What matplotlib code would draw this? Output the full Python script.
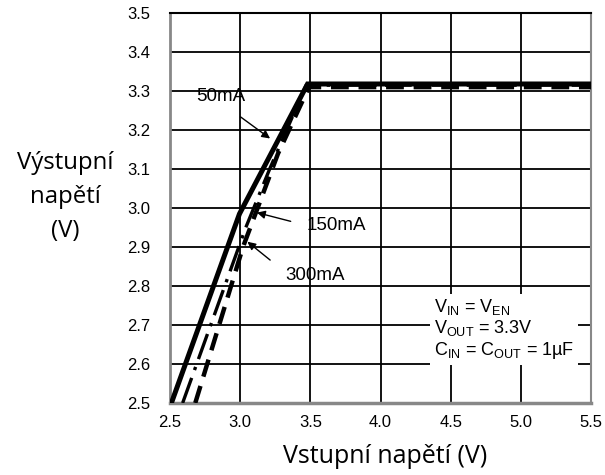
import matplotlib.pyplot as plt

# data
x_50 = [2.51, 2.995, 3.48, 5.5]
y_50 = [2.50, 2.985, 3.318, 3.318]

x_150 = [2.59, 2.64, 2.84, 3.04, 3.21, 3.47, 5.5]
y_150 = [2.50, 2.55, 2.75, 2.95, 3.10, 3.315, 3.315]

x_300 = [2.68, 3.02, 3.27, 3.49, 5.5]
y_300 = [2.50, 2.90, 3.14, 3.31, 3.31]

x_ticks = [2.5, 3.0, 3.5, 4.0, 4.5, 5.0, 5.5]
y_ticks = [2.5, 2.6, 2.7, 2.8, 2.9, 3.0, 3.1, 3.2, 3.3, 3.4, 3.5]

fig = plt.figure(figsize=(6.05, 4.75), dpi=100)
ax = fig.add_axes([0.281, 0.1516, 0.696, 0.821])

ax.plot(x_300, y_300, color='black', lw=3.2, dashes=(4, 2.2), zorder=3)
ax.plot(x_150, y_150, color='black', lw=2.4, linestyle=(0, (8, 2.5, 1, 2.5)), zorder=4)
ax.plot(x_50, y_50, color='black', lw=3.6, zorder=5, solid_joinstyle='miter')

ax.set_xlim(2.5, 5.5)
ax.set_ylim(2.5, 3.5)
ax.set_xticks(x_ticks)
ax.set_yticks(y_ticks)
ax.set_xticklabels(['%.1f' % v for v in x_ticks])
ax.set_yticklabels(['%.1f' % v for v in y_ticks])
ax.tick_params(length=0, labelsize=12, pad=9)
ax.tick_params(axis='y', pad=14)
for lab in ax.get_xticklabels() + ax.get_yticklabels():
    lab.set_fontfamily('Liberation Sans')

ax.grid(True, color='black', lw=1.3)
ax.set_axisbelow(True)
ax.spines['top'].set_color('black')
ax.spines['top'].set_linewidth(1.5)
for s in ['left', 'right', 'bottom']:
    ax.spines[s].set_color('#888888')
ax.spines['left'].set_linewidth(2)
ax.spines['right'].set_linewidth(1.5)
ax.spines['bottom'].set_linewidth(2.5)

# annotations
arrow = dict(arrowstyle='-|>', color='black', lw=1, mutation_scale=12)
fs = 13.5
ax.annotate('', xy=(3.229, 3.174), xytext=(2.986, 3.238), arrowprops=arrow, zorder=6)
ax.text(2.864, 3.285, '50mA', ha='center', va='center', fontsize=fs,
        family='Liberation Sans')
ax.annotate('', xy=(3.10, 2.99), xytext=(3.379, 2.964), arrowprops=arrow, zorder=6)
ax.text(3.475, 2.956, '150mA', ha='left', va='center', fontsize=fs,
        family='Liberation Sans')
ax.annotate('', xy=(3.036, 2.918), xytext=(3.229, 2.862), arrowprops=arrow, zorder=6)
ax.text(3.32, 2.828, '300mA', ha='left', va='center', fontsize=fs,
        family='Liberation Sans')

cond = ('$\\mathregular{V_{IN}}$ = $\\mathregular{V_{EN}}$\n'
        '$\\mathregular{V_{OUT}}$ = 3.3V\n'
        '$\\mathregular{C_{IN}}$ = $\\mathregular{C_{OUT}}$ = 1µF')
ax.text(4.38, 2.69, cond, ha='left', va='center', fontsize=13,
        family='Liberation Sans', linespacing=1.08,
        bbox=dict(facecolor='white', edgecolor='none', pad=3), zorder=7)

fig.text(0.108, 0.585, 'Výstupní\nnapětí\n(V)', ha='center', va='center',
         fontsize=17.3, family='Open Sans', linespacing=1.55)
fig.text(0.636, 0.038, 'Vstupní napětí (V)', ha='center', va='center',
         fontsize=18, family='Open Sans')

fig.savefig('out.png', dpi=100)
